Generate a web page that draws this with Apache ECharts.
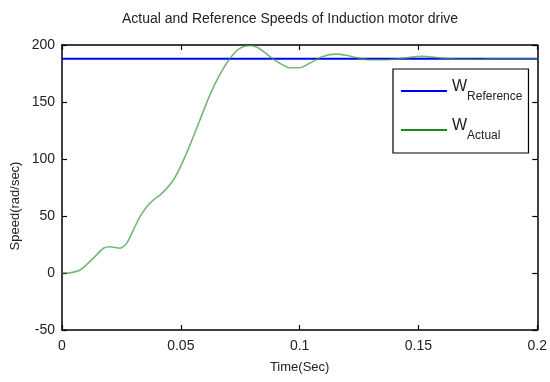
<!DOCTYPE html>
<html><head><meta charset="utf-8">
<script src="https://cdn.jsdelivr.net/npm/echarts@6/dist/echarts.min.js"></script>
<style>html,body{margin:0;padding:0;background:#fff}#c{width:550px;height:382px}</style>
</head><body><div id="c"></div>
<script>
const titleText = 'Actual and Reference Speeds of Induction motor drive';
const xTicks = [0, 0.05, 0.1, 0.15, 0.2];
const yTicks = [-50, 0, 50, 100, 150, 200];
const refSpeed = 188;
const refTime = [0, 0.2];
const actTime = [0, 0.002, 0.0076, 0.0132, 0.0174, 0.0202, 0.0244, 0.0272, 0.030, 0.0328, 0.0356, 0.0384, 0.0412, 0.0440, 0.0470, 0.0500, 0.0538, 0.058, 0.0622, 0.0664, 0.0706, 0.0748, 0.079, 0.0825, 0.0874, 0.0916, 0.0958, 0.1, 0.1042, 0.1098, 0.1154, 0.1196, 0.1238, 0.1294, 0.1364, 0.142, 0.1518, 0.1574, 0.1658, 0.178, 0.181, 0.2];
const actSpeed = [0, 0, 2.6, 13, 21.7, 23, 21.7, 26, 37.7, 49.4, 58, 64, 68.4, 74, 82, 94, 112, 134, 156, 174, 188, 197, 199.5, 197.6, 190, 184, 180, 180, 184, 190, 192, 191, 189, 187, 187, 188, 190, 189, 187.5, 187.7, 188, 188];
const legendNames = ['Reference', 'Actual'];

const font = "'Liberation Sans Narrow','Liberation Sans',Arial,sans-serif";
const chart = echarts.init(document.getElementById('c'), null, {renderer: 'canvas'});
const axisLine = {show: true, onZero: false, lineStyle: {color: '#000', width: 1.5}};
const tick = {inside: true, length: 5, lineStyle: {color: '#000', width: 1.2}};
chart.setOption({
  animation: false,
  backgroundColor: '#fff',
  title: {text: titleText, left: 285, top: 7, textAlign: 'center',
    textStyle: {fontFamily: font, fontSize: 14, fontWeight: 'normal', color: '#222'}},
  grid: {left: 62, right: 12, top: 45, bottom: 52},
  legend: {
    orient: 'vertical', left: 393, top: 69,
    borderColor: '#000', borderWidth: 1.2, borderRadius: 0,
    padding: [10, 6, 11, 8], itemGap: 15,
    itemWidth: 46, itemHeight: 14,
    icon: 'path://M0,6L46,6L46,8L0,8Z',
    data: legendNames.map(n => ({name: n})),
    formatter: n => '{w|W}{s|' + n + '}',
    textStyle: {
      fontFamily: font, color: '#222',
      rich: {
        w: {fontSize: 16, fontFamily: font, color: '#222', padding: [0, 0, 8, 0]},
        s: {fontSize: 12, fontFamily: font, color: '#222', padding: [12, 0, 0, 0]}
      }
    }
  },
  xAxis: [{
    type: 'value', min: 0, max: 0.2, interval: 0.05,
    axisLine: axisLine, splitLine: {show: false}, axisTick: tick,
    axisLabel: {margin: 9, fontFamily: font, fontSize: 14, color: '#222',
      formatter: v => { const m = xTicks.find(t => Math.abs(t - v) < 1e-9); return m === undefined ? '' : String(m); }},
    name: 'Time(Sec)', nameLocation: 'middle', nameGap: 31,
    nameTextStyle: {fontFamily: font, fontSize: 13, color: '#222'}
  }, {
    type: 'value', position: 'top', min: 0, max: 0.2, interval: 0.05,
    axisLine: axisLine, splitLine: {show: false}, axisTick: tick,
    axisLabel: {show: false}
  }],
  yAxis: [{
    type: 'value', min: -50, max: 200, interval: 50,
    axisLine: axisLine, splitLine: {show: false}, axisTick: tick,
    axisLabel: {margin: 7, fontFamily: font, fontSize: 14, color: '#222',
      formatter: v => String(yTicks.find(t => t === v))}
  }, {
    type: 'value', position: 'right', min: -50, max: 200, interval: 50,
    axisLine: axisLine, splitLine: {show: false}, axisTick: tick,
    axisLabel: {show: false}
  }],
  graphic: [{
    type: 'text', x: 15, y: 206, rotation: Math.PI / 2,
    style: {text: 'Speed(rad/sec)', fontFamily: font, fontSize: 13, fill: '#222',
      textAlign: 'center', textVerticalAlign: 'middle'}
  }],
  series: [{
    name: legendNames[0], type: 'line', showSymbol: false, symbol: 'none',
    xAxisIndex: 0, yAxisIndex: 0,
    data: refTime.map(t => [t, refSpeed]),
    lineStyle: {color: '#0000ff', width: 2}, itemStyle: {color: '#0000ff'}, z: 2
  }, {
    name: legendNames[1], type: 'line', showSymbol: false, symbol: 'none', smooth: 0.25,
    xAxisIndex: 0, yAxisIndex: 0,
    data: actTime.map((t, i) => [t, actSpeed[i]]),
    lineStyle: {color: '#3a9a3a', width: 1.6, opacity: 0.7}, itemStyle: {color: '#1a8a1a'}, z: 3
  }]
});
</script></body></html>
